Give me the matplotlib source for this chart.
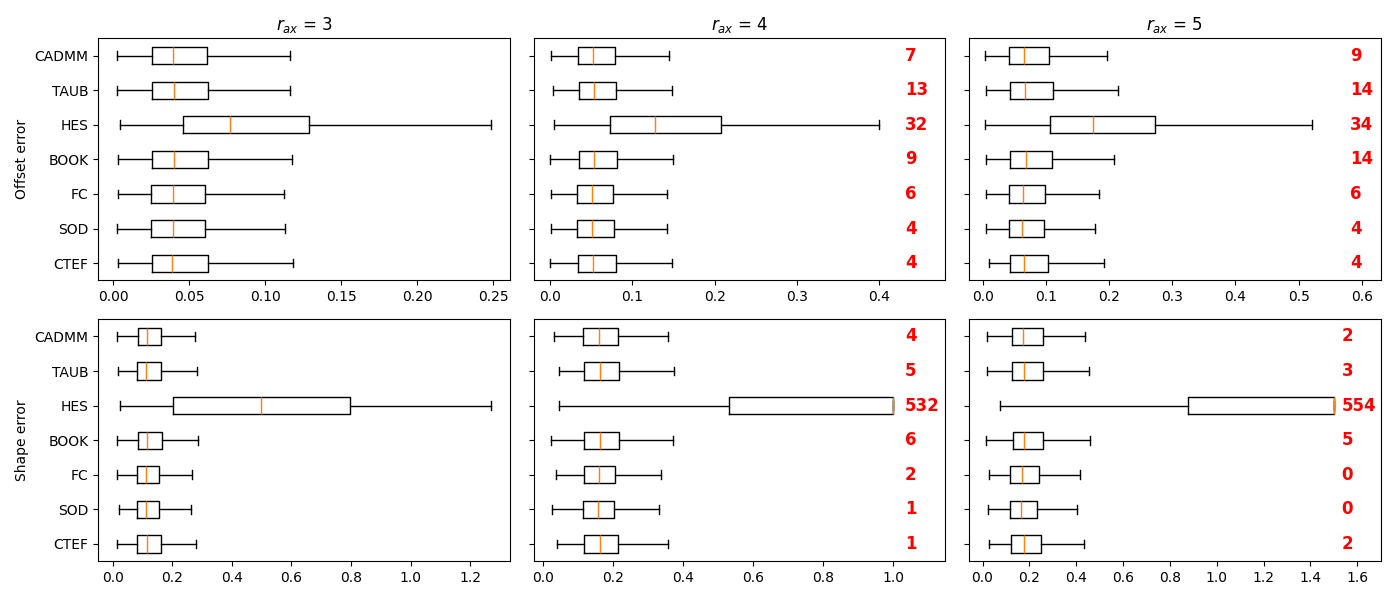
import matplotlib
matplotlib.use("Agg")
import matplotlib.pyplot as plt

methods = ["CTEF", "SOD", "FC", "BOOK", "HES", "TAUB", "CADMM"]  # bottom -> top
r_values = [3, 4, 5]
row_labels = ["Offset error", "Shape error"]

# stats per panel, each list ordered bottom->top as methods
# --- Offset error ---
off3_whislo = [0.0030, 0.0024, 0.0030, 0.0030, 0.0042, 0.0024, 0.0024]
off3_q1     = [0.0255, 0.0251, 0.0251, 0.0255, 0.0460, 0.0255, 0.0255]
off3_med    = [0.0387, 0.0394, 0.0394, 0.0400, 0.0770, 0.0400, 0.0394]
off3_q3     = [0.0625, 0.0605, 0.0605, 0.0625, 0.1290, 0.0625, 0.0618]
off3_whishi = [0.1180, 0.1133, 0.1127, 0.1175, 0.2490, 0.1166, 0.1166]

off4_whislo = [0.0004, 0.0016, 0.0016, 0.0004, 0.0053, 0.0040, 0.0012]
off4_q1     = [0.0343, 0.0331, 0.0331, 0.0352, 0.0735, 0.0352, 0.0343]
off4_med    = [0.0525, 0.0513, 0.0513, 0.0537, 0.1277, 0.0537, 0.0525]
off4_q3     = [0.0808, 0.0780, 0.0768, 0.0816, 0.2080, 0.0808, 0.0796]
off4_whishi = [0.1487, 0.1422, 0.1422, 0.1500, 0.4000, 0.1487, 0.1446]

off5_whislo = [0.0095, 0.0053, 0.0053, 0.0053, 0.0037, 0.0053, 0.0037]
off5_q1     = [0.0427, 0.0411, 0.0411, 0.0427, 0.1064, 0.0427, 0.0411]
off5_med    = [0.0653, 0.0622, 0.0637, 0.0685, 0.1744, 0.0669, 0.0653]
off5_q3     = [0.1027, 0.0969, 0.0985, 0.1096, 0.2723, 0.1110, 0.1048]
off5_whishi = [0.1918, 0.1775, 0.1844, 0.2076, 0.5210, 0.2139, 0.1970]

# --- Shape error ---
shp3_whislo = [0.0145, 0.0212, 0.0145, 0.0145, 0.0246, 0.0179, 0.0145]
shp3_q1     = [0.0816, 0.0816, 0.0816, 0.0849, 0.2022, 0.0816, 0.0849]
shp3_med    = [0.1150, 0.1117, 0.1117, 0.1150, 0.4970, 0.1117, 0.1150]
shp3_q3     = [0.1630, 0.1553, 0.1553, 0.1665, 0.7955, 0.1630, 0.1630]
shp3_whishi = [0.2804, 0.2626, 0.2660, 0.2870, 1.2715, 0.2840, 0.2770]

shp4_whislo = [0.0380, 0.0238, 0.0352, 0.0210, 0.0447, 0.0447, 0.0295]
shp4_q1     = [0.1151, 0.1123, 0.1151, 0.1151, 0.5320, 0.1151, 0.1123]
shp4_med    = [0.1608, 0.1550, 0.1580, 0.1608, 1.0000, 0.1608, 0.1580]
shp4_q3     = [0.2122, 0.2017, 0.2046, 0.2179, 1.0000, 0.2179, 0.2122]
shp4_whishi = [0.3560, 0.3300, 0.3370, 0.3700, 1.0000, 0.3730, 0.3560]

shp5_whislo = [0.0298, 0.0255, 0.0298, 0.0156, 0.0738, 0.0199, 0.0199]
shp5_q1     = [0.1234, 0.1177, 0.1177, 0.1320, 0.8770, 0.1277, 0.1277]
shp5_med    = [0.1790, 0.1660, 0.1700, 0.1790, 1.5000, 0.1790, 0.1745]
shp5_q3     = [0.2510, 0.2340, 0.2426, 0.2600, 1.5000, 0.2580, 0.2580]
shp5_whishi = [0.4340, 0.4040, 0.4180, 0.4600, 1.5000, 0.4550, 0.4380]

# outlier counts (bottom->top), only shown for r_ax = 4, 5
off4_counts = [4, 4, 6, 9, 32, 13, 7]
off5_counts = [4, 4, 6, 14, 34, 14, 9]
shp4_counts = [1, 1, 2, 6, 532, 5, 4]
shp5_counts = [2, 0, 0, 5, 554, 3, 2]

panels = [
    [(off3_whislo, off3_q1, off3_med, off3_q3, off3_whishi, None),
     (off4_whislo, off4_q1, off4_med, off4_q3, off4_whishi, off4_counts),
     (off5_whislo, off5_q1, off5_med, off5_q3, off5_whishi, off5_counts)],
    [(shp3_whislo, shp3_q1, shp3_med, shp3_q3, shp3_whishi, None),
     (shp4_whislo, shp4_q1, shp4_med, shp4_q3, shp4_whishi, shp4_counts),
     (shp5_whislo, shp5_q1, shp5_med, shp5_q3, shp5_whishi, shp5_counts)],
]
right_limits = [[None, 0.48, 0.63], [None, 1.15, 1.70]]
text_x = [[None, 0.902, 0.925], [None, 0.902, 0.905]]

positions = list(range(1, len(methods) + 1))

fig, axes = plt.subplots(2, 3, figsize=(14, 6), dpi=100, sharey=True)
for i in range(2):
    for j in range(3):
        ax = axes[i, j]
        wl, q1, md, q3, wh, counts = panels[i][j]
        stats = []
        for k, name in enumerate(methods):
            stats.append(dict(label=name, whislo=wl[k], q1=q1[k], med=md[k],
                              q3=q3[k], whishi=wh[k], fliers=[]))
        ax.bxp(stats, positions=positions, orientation='horizontal',
               showfliers=False, manage_ticks=False)
        if right_limits[i][j] is not None:
            ax.set_xlim(right=right_limits[i][j])
        if counts is not None:
            for k, c in enumerate(counts):
                ax.text(text_x[i][j], positions[k], str(c), color='red',
                        fontsize=12, fontweight='bold', va='center', ha='left',
                        transform=ax.get_yaxis_transform())
        if i == 0:
            ax.set_title(f"$r_{{ax}}$ = {r_values[j]}")
        if j == 0:
            ax.set_ylabel(row_labels[i])

axes[0, 0].set_yticks(positions)
axes[0, 0].set_yticklabels(methods)
axes[0, 0].set_ylim(0.5, len(methods) + 0.5)
for ax in axes[:, 1:].ravel():
    ax.tick_params(axis='y', labelleft=False)
axes[1, 0].tick_params(axis='y', labelleft=True)

plt.tight_layout()
plt.savefig("out.png", dpi=100)
